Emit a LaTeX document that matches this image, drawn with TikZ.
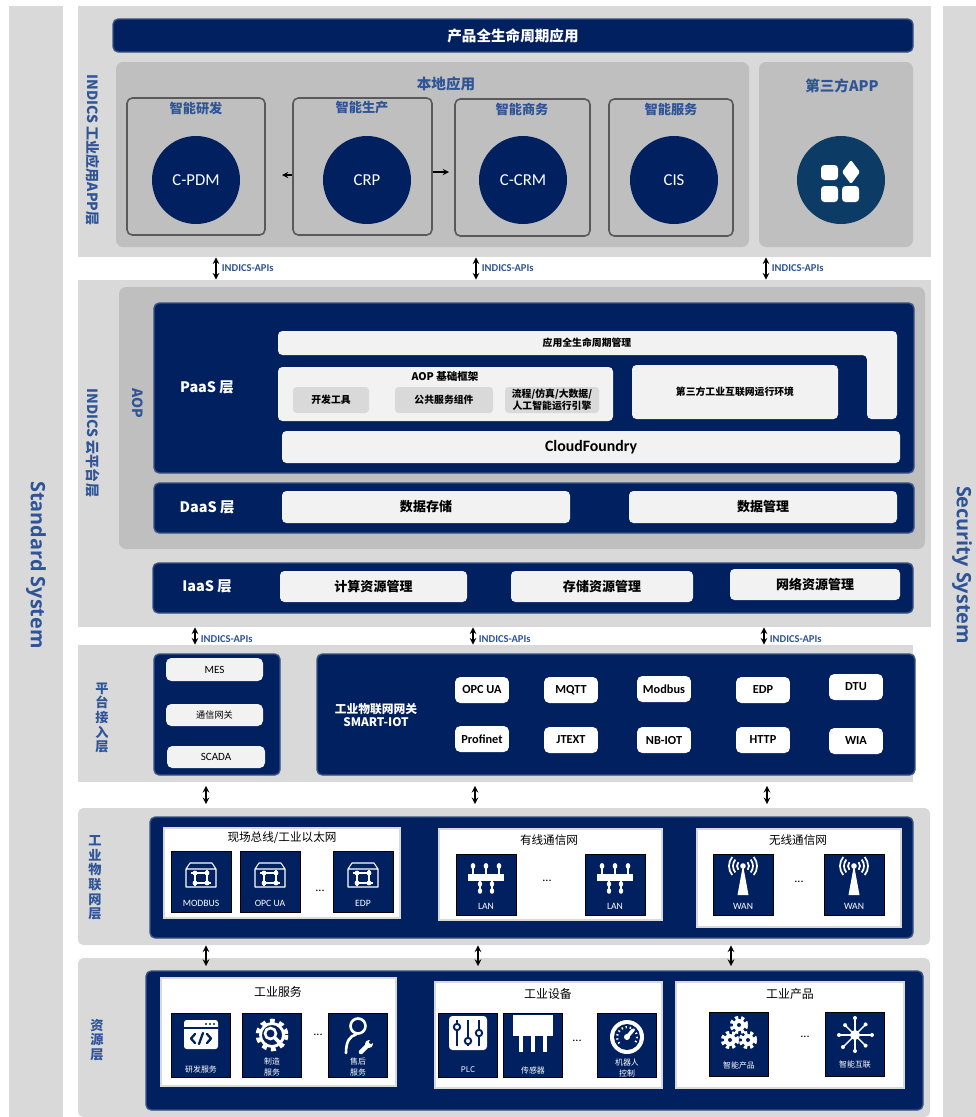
\documentclass[tikz,border=0pt]{standalone}
\usepackage{fontspec}
\setmainfont{Noto Sans CJK SC}
\newfontfamily\lat{Carlito}
\newfontfamily\osans{Open Sans}
\usetikzlibrary{fit}
\definecolor{navy}{HTML}{002060}
\definecolor{rim}{HTML}{3A5282}
\definecolor{panel}{HTML}{D9D9D9}
\definecolor{inner}{HTML}{BFBFBF}
\definecolor{paper}{HTML}{F2F2F2}
\definecolor{lblue}{HTML}{2F5597}
\definecolor{appblue}{HTML}{0C3C66}
\definecolor{edge}{HTML}{595959}
\newcommand\pxfont[2]{\fontsize{#1}{#2}\selectfont}

\begin{document}
\begin{tikzpicture}[x=0.02cm,y=-0.02cm,>=stealth,
  layerpanel/.style={fill=panel,inner sep=0pt},
  darkbox/.style={fill=navy,draw=rim,line width=0.8pt,rounded corners=3pt,inner sep=0pt},
  greybox/.style={fill=inner,rounded corners=4pt,inner sep=0pt},
  fieldbox/.style={fill=inner,draw=edge,line width=0.9pt,rounded corners=3pt,inner sep=0pt},
  lightbox/.style={fill=paper,rounded corners=2.5pt,inner sep=0pt},
  subbox/.style={fill=panel,rounded corners=2pt,inner sep=0pt},
  accbox/.style={fill=paper,rounded corners=3pt,inner sep=0pt},
  lighttext/.style={font=\pxfont{7.4}{9}\bfseries},
  subtext/.style={align=center,font=\pxfont{5.6}{6.6}\bfseries},
  acctext/.style={font=\lat\pxfont{6.3}{7}},
  proto/.style={fill=white,rounded corners=3pt,minimum width=1.08cm,minimum height=0.52cm,inner sep=0pt,font=\lat\pxfont{7}{8}\bfseries},
  netbox/.style={fill=white,draw=panel,line width=0.8pt,inner sep=0pt},
  iottile/.style={fill=navy,draw=black,line width=0.5pt,minimum width=1.2cm,minimum height=1.22cm,inner sep=0pt},
  restile/.style={fill=navy,draw=black,line width=0.5pt,minimum width=1.18cm,minimum height=1.28cm,inner sep=0pt},
  tiletext/.style={text=white,font=\lat\pxfont{5.5}{6}},
  restext/.style={text=white,align=center,font=\pxfont{4.5}{5.8}},
  app/.style={circle,fill=navy,minimum size=1.76cm,inner sep=0pt,text=white,font=\lat\pxfont{9.5}{10}},
  api/.style={<->,line width=0.7pt},
  apitext/.style={right,inner sep=1pt,xshift=2pt,text=lblue,font=\lat\pxfont{6}{7}\bfseries},
  sidetext/.style={rotate=-90,text=lblue,font=\pxfont{8}{9}\bfseries},
  stacktext/.style={align=center,text=lblue,font=\pxfont{7.5}{8.3}\bfseries},
  systext/.style={rotate=-90,text=lblue,font=\osans\pxfont{11.3}{13}\bfseries},
  boxtitle/.style={text=lblue,font=\pxfont{8.3}{9}\bfseries},
  fieldtitle/.style={text=lblue,font=\pxfont{7.5}{8}\bfseries},
  layertitle/.style={text=white,font=\pxfont{8.2}{9}\bfseries},
  nettitle/.style={font=\pxfont{6.6}{7.5}},
  ellip/.style={font=\lat\pxfont{7}{7}},
  appicon/.pic={
    \fill[white,rounded corners=2pt] (-20,-15) rectangle (-3,0);
    \fill[white,rounded corners=2pt] (-20,6) rectangle (-3,22);
    \fill[white,rounded corners=2pt] (1,6) rectangle (18,22);
    \fill[white,rounded corners=0.8pt] (10,-20) -- (19,-8) -- (10,4) -- (1,-8) -- cycle;
  },
  busicon/.pic={
    \draw[white,line width=0.6pt,line join=round] (-15,5) -- (-15,-13) -- (-11,-19) -- (11,-19) -- (15,-13) -- (15,5) -- cycle (-15,-13) -- (15,-13);
    \draw[white,line width=1.4pt] (-6,-9) rectangle (6,1) (-6,-9) -- (-10,-9) (6,1) -- (10,1) (6,-9) -- (6,-12) (-6,1) -- (-6,4);
    \foreach \p in {(-6,-9),(6,-9),(-6,1),(6,1)} \fill[white] \p circle (2.4);
  },
  lanicon/.pic={
    \fill[white] (-18,-11) rectangle (18,-4);
    \foreach \x in {-13,0,13} {\draw[white,line width=0.9pt] (\x,-11) -- (\x,-17); \fill[white] (\x,-19) ellipse (2.3 and 3);}
    \foreach \x in {-6,6} {\draw[white,line width=0.9pt] (\x,-4) -- (\x,5); \fill[white] (\x,-1) ellipse (2.2 and 2.8); \fill[white] (\x,6) ellipse (2.2 and 2.8);}
  },
  wanicon/.pic={
    \fill[white] (0,-20) -- (5.5,10) -- (-5.5,10) -- cycle;
    \fill[white] (0,-19) circle (2.8);
    \foreach \r in {6,10,14} {\draw[white,line width=1pt] (0,-19) ++(40:\r) arc (40:-40:\r); \draw[white,line width=1pt] (0,-19) ++(140:\r) arc (140:220:\r);}
  },
  codeicon/.pic={
    \fill[white,rounded corners=1.5pt] (-17,-25) rectangle (17,4);
    \draw[navy,line width=1pt] (-17,-17) -- (17,-17);
    \foreach \x in {5,9,13} \fill[navy] (\x,-21) circle (1.1);
    \draw[navy,line width=1.3pt,line cap=round,line join=round] (-6,-11) -- (-10,-6.5) -- (-6,-2) (6,-11) -- (10,-6.5) -- (6,-2) (2,-12) -- (-2,-1);
  },
  mfgicon/.pic={
    \draw[white,line width=3.2pt,dash pattern=on 2.6pt off 2.4pt] (0,-10) circle (13.5);
    \draw[white,line width=1.6pt] (0,-10) circle (11.5);
    \draw[white,line width=1.5pt] (-1.5,-11.5) circle (5.5);
    \draw[white,line width=2.2pt,line cap=round] (2.5,-7.5) -- (7.5,-2.5);
  },
  aftericon/.pic={
    \draw[white,line width=1.5pt] (0,-19) circle (7.5);
    \draw[white,line width=1.5pt,line cap=round] (-12,8) .. controls (-12,-4) and (-8,-9) .. (-2,-10.5);
    \draw[white,line width=2.6pt,line cap=round] (3,7) -- (10,0);
    \fill[white] (11,-1) circle (4);
    \fill[navy] (13,-3) circle (2);
  },
  plcicon/.pic={
    \fill[white,rounded corners=2pt] (-19,-29) rectangle (19,5);
    \foreach \x/\k in {-11/-18,0/-4,11/-12} {\draw[navy,line width=1.1pt] (\x,-25) -- (\x,1); \filldraw[fill=white,draw=navy,line width=1.1pt] (\x,\k) circle (3.2);}
  },
  sensoricon/.pic={
    \fill[white] (-20,-30) rectangle (20,-9);
    \foreach \x in {-12,0,12} \fill[white] (\x-1.6,-9) rectangle (\x+1.6,7);
  },
  gaugeicon/.pic={
    \fill[white] (0,-8) circle (17);
    \fill[navy] (0,-8) circle (13);
    \draw[white,line width=1.2pt,dash pattern=on 0.8pt off 1.6pt] (0,-8) ++(-220:10) arc (-220:40:10);
    \draw[white,line width=2pt,line cap=round] (0,-8) -- (6,-15);
    \fill[white] (0,-8) circle (3);
  },
  gearsicon/.pic={
    \foreach \p in {(0,-19),(-9,-4),(9,-4)} {\fill[white] \p circle (6); \draw[white,line width=2.2pt,dash pattern=on 1.8pt off 1.6pt] \p circle (7.2); \fill[navy] \p circle (2);}
  },
  hubicon/.pic={
    \fill[white] (0,-9) circle (5);
    \foreach \a/\r in {0/17,45/15,90/16,135/17,180/16,225/14,270/17,315/15} {\draw[white,line width=0.8pt] (0,-9) -- ++(\a:\r); \fill[white] (0,-9) ++(\a:\r) circle (2);}
  }]
\useasboundingbox (0,0) rectangle (976,1117);
\fill[white] (0,0) rectangle (976,1117);
\node[layerpanel,fit={(9,6) (63,1117)}] (stdbar) {};
\node[systext] (stdtext) at (36,565) {Standard System};
\node[layerpanel,fit={(943,6) (976,1117)}] (secbar) {};
\node[systext] (sectext) at (962,565) {Security System};
% app layer
\node[layerpanel,fit={(78,6) (931,257)}] (appl) {};
\node[sidetext] (appltext) at (93,150) {INDICS 工业应用APP层};
\node[darkbox,fit={(113,19) (913,52)},label={[text=white,font=\pxfont{8.3}{9}\bfseries]center:产品全生命周期应用}] (lifeapp) {};
\node[greybox,fit={(116,62) (749,247)}] (local) {};
\node[boxtitle] (localtext) at (446,84) {本地应用};
\node[greybox,fit={(759,62) (913,247)}] (third) {};
\node[boxtitle] (thirdtext) at (842,86) {第三方APP};
\node[fieldbox,fit={(127,98) (265,235)}] (rdbox) {};
\node[fieldtitle] (rdtext) at (196,108) {智能研发};
\node[fieldbox,fit={(293,98) (432,235)}] (mfbox) {};
\node[fieldtitle] (mftext) at (362,108) {智能生产};
\node[fieldbox,fit={(455,99) (590,236)}] (bizbox) {};
\node[fieldtitle] (biztext) at (522,109) {智能商务};
\node[fieldbox,fit={(609,99) (733,236)}] (svcbox) {};
\node[fieldtitle] (svctext) at (671,109) {智能服务};
\node[app] (cpdm) at (196,180) {C-PDM};
\node[app] (crp) at (367,180) {CRP};
\node[app] (ccrm) at (523,180) {C-CRM};
\node[app] (cis) at (674,180) {CIS};
\node[app,fill=appblue] (appstore) at (841,180) {};
\pic at (appstore) {appicon};
\coordinate (crpl) at (282,175);
\coordinate (crpr) at (449,172);
\draw[->,line width=0.6pt] (mfbox.west |- crpl) -- (crpl);
\draw[->,line width=0.6pt] (mfbox.east |- crpr) -- (crpr);
% platform layer
\node[layerpanel,fit={(78,280) (931,627)}] (platl) {};
\node[sidetext] (platltext) at (93,443) {INDICS 云平台层};
\node[greybox,fit={(119,287) (925,549)}] (aop) {};
\node[sidetext] (aoptext) at (138,403) {AOP};
\node[darkbox,fit={(154,303) (914,473)}] (paas) {};
\node[layertitle] (paastext) at (207,387) {PaaS 层};
\fill[paper,rounded corners=2.5pt] (278,331) -- (897,331) -- (897,419) -- (867,419) -- (867,355) -- (278,355) -- cycle;
\node[font=\pxfont{5.6}{6}\bfseries] (lifemgmt) at (587,343) {应用全生命周期管理};
\node[lightbox,fit={(278,367) (613,421)}] (aopbase) {};
\node[font=\pxfont{6}{7}\bfseries] (aopbasetext) at (445,376) {AOP 基础框架};
\node[subbox,fit={(293,387) (369,413)},label={[subtext]center:开发工具}] (devtool) {};
\node[subbox,fit={(395,387) (493,413)},label={[subtext]center:公共服务组件}] (pubsvc) {};
\node[subbox,fit={(505,387) (599,413)},label={[subtext]center:流程/仿真/大数据/\\人工智能运行引擎}] (engine) {};
\node[lightbox,fit={(632,365) (838,419)},label={[subtext]center:第三方工业互联网运行环境}] (thirdenv) {};
\node[lightbox,fit={(282,431) (900,463)},label={[font=\lat\pxfont{9}{10}\bfseries]center:CloudFoundry}] (cf) {};
\node[darkbox,fit={(154,483) (914,533)}] (daas) {};
\node[layertitle] (daastext) at (207,507) {DaaS 层};
\node[lightbox,fit={(282,491) (570,523)},label={[lighttext]center:数据存储}] (dstore) {};
\node[lightbox,fit={(629,491) (897,523)},label={[lighttext]center:数据管理}] (dmgmt) {};
\node[darkbox,fit={(153,563) (913,613)}] (iaas) {};
\node[layertitle] (iaastext) at (207,586) {IaaS 层};
\node[lightbox,fit={(280,571) (467,602)},label={[lighttext]center:计算资源管理}] (compute) {};
\node[lightbox,fit={(511,571) (693,602)},label={[lighttext]center:存储资源管理}] (storage) {};
\node[lightbox,fit={(730,569) (900,600)},label={[lighttext]center:网络资源管理}] (network) {};
% access layer
\node[layerpanel,fit={(78,645) (913,782)}] (accl) {};
\node[stacktext] (accltext) at (102,718) {平\\台\\接\\入\\层};
\node[darkbox,fit={(154,654) (280,775)}] (accleft) {};
\node[accbox,fit={(166,658) (263,681)},label={[acctext]center:MES}] (mes) {};
\node[accbox,fit={(166,704) (263,726)},label={[font=\pxfont{5.2}{6}]center:通信网关}] (commgw) {};
\node[accbox,fit={(167,746) (265,768)},label={[acctext]center:SCADA}] (scada) {};
\node[darkbox,fit={(317,654) (915,775)}] (accright) {};
\node[text=white,align=center,font=\pxfont{6.7}{7.8}\bfseries] (smartiot) at (376,715) {工业物联网网关\\SMART-IOT};
\foreach \t/\x/\y [count=\i] in {OPC UA/482/690,MQTT/571/690,Modbus/664/689,EDP/763/690,DTU/856/687,Profinet/482/739,JTEXT/571/740,NB-IOT/664/740,HTTP/763/740,WIA/856/741}
  \node[proto] (proto\i) at (\x,\y) {\t};
% iot layer
\node[layerpanel,rounded corners=3pt,fit={(78,808) (930,945)}] (iotl) {};
\node[stacktext] (iotltext) at (95,878) {工\\业\\物\\联\\网\\层};
\node[darkbox,fit={(150,817) (913,938)}] (iotdark) {};
\node[netbox,fit={(164,828) (400,918)}] (fieldbus) {};
\node[nettitle] (fieldbustext) at (282,838) {现场总线/工业以太网};
\node[netbox,fit={(439,829) (662,920)}] (wired) {};
\node[nettitle] (wiredtext) at (549,840) {有线通信网};
\node[netbox,fit={(697,829) (901,927)}] (wireless) {};
\node[nettitle] (wirelesstext) at (798,840) {无线通信网};
\foreach \t/\x [count=\i] in {MODBUS/201,OPC UA/270,EDP/363} {
  \node[iottile] (bus\i) at (\x,882) {};
  \pic at (bus\i) {busicon};
  \node[tiletext] (bustext\i) at (\x,903) {\t};
}
\foreach \x [count=\i] in {486,615} {
  \node[iottile] (lan\i) at (\x,885) {};
  \pic at (lan\i) {lanicon};
  \node[tiletext] (lantext\i) at (\x,906) {LAN};
}
\foreach \x [count=\i] in {743,854} {
  \node[iottile] (wan\i) at (\x,885) {};
  \pic at (wan\i) {wanicon};
  \node[tiletext] (wantext\i) at (\x,906) {WAN};
}
\node[ellip] (busdots) at (320,891) {...};
\node[ellip] (landots) at (547,881) {...};
\node[ellip] (wandots) at (799,882) {...};
% resource layer
\node[layerpanel,rounded corners=3pt,fit={(78,958) (930,1117)}] (resl) {};
\node[stacktext] (resltext) at (97,1040) {资\\源\\层};
\node[darkbox,fit={(146,971) (923,1110)}] (resdark) {};
\node[netbox,fit={(161,978) (396,1086)}] (isvc) {};
\node[nettitle,font=\pxfont{6.8}{7.5}] (isvctext) at (278,992) {工业服务};
\node[netbox,fit={(435,982) (662,1088)}] (iequip) {};
\node[nettitle,font=\pxfont{6.8}{7.5}] (iequiptext) at (548,994) {工业设备};
\node[netbox,fit={(676,982) (904,1088)}] (iprod) {};
\node[nettitle,font=\pxfont{6.8}{7.5}] (iprodtext) at (790,994) {工业产品};
\node[restile] (rd) at (201,1045) {};
\pic at (rd) {codeicon};
\node[restext] (rdlabel) at (201,1069) {研发服务};
\node[restile] (mfg) at (272,1045) {};
\pic at (mfg) {mfgicon};
\node[restext] (mfglabel) at (272,1067) {制造\\服务};
\node[restile] (after) at (358,1045) {};
\pic at (after) {aftericon};
\node[restext] (afterlabel) at (358,1067) {售后\\服务};
\node[restile] (plc) at (468,1045) {};
\pic at (plc) {plcicon};
\node[restext] (plclabel) at (468,1070) {PLC};
\node[restile] (sensor) at (533,1045) {};
\pic at (sensor) {sensoricon};
\node[restext] (sensorlabel) at (533,1070) {传感器};
\node[restile] (robot) at (627,1045) {};
\pic at (robot) {gaugeicon};
\node[restext] (robotlabel) at (627,1068) {机器人\\控制};
\node[restile] (smartprod) at (739,1044) {};
\pic at (smartprod) {gearsicon};
\node[restext] (smartprodlabel) at (739,1065) {智能产品};
\node[restile] (hub) at (855,1044) {};
\pic at (hub) {hubicon};
\node[restext] (hublabel) at (855,1065) {智能互联};
\node[ellip] (svcdots) at (318,1035) {...};
\node[ellip] (equipdots) at (577,1041) {...};
\node[ellip] (proddots) at (805,1037) {...};
% links between layers
\foreach \x [count=\i] in {216,476,766} {
  \coordinate (ax\i) at (\x,0);
  \draw[api] (appl.south -| ax\i) -- (platl.north -| ax\i) node[apitext,midway] {INDICS-APIs};
}
\foreach \x [count=\i] in {195,473,764} {
  \coordinate (bx\i) at (\x,0);
  \draw[api] (platl.south -| bx\i) -- (accl.north -| bx\i) node[apitext,midway,yshift=-2pt] {INDICS-APIs};
}
\foreach \x [count=\i] in {206,475,767} {
  \coordinate (cx\i) at (\x,0);
  \draw[api] ([yshift=-2pt]accl.south -| cx\i) -- ([yshift=2pt]iotl.north -| cx\i);
}
\foreach \x [count=\i] in {206,478,731} {
  \coordinate (dx\i) at (\x,966);
  \draw[api] (iotl.south -| dx\i) -- (dx\i);
}
\end{tikzpicture}
\end{document}
